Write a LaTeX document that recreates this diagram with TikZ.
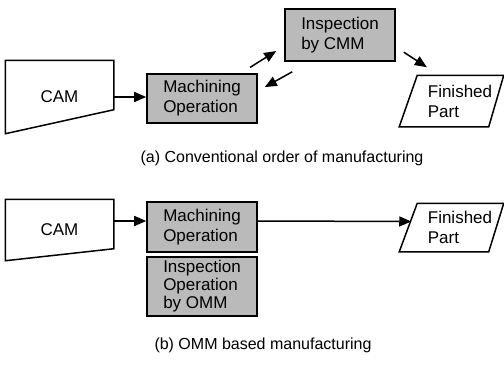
\documentclass[tikz,border=0pt]{standalone}
\usepackage{fontspec}
\setmainfont{Liberation Sans}
\usetikzlibrary{arrows.meta,calc}
\tikzset{
  >={Triangle[length=12pt,width=10pt]},
  box/.style={draw,line width=1.6pt,fill=black!27,align=left,inner sep=0pt,font=\fontsize{17}{20}\selectfont},
  txt/.style={inner sep=0pt,align=left,font=\fontsize{17}{20}\selectfont},
  captxt/.style={inner sep=0pt,font=\fontsize{16}{19}\selectfont},
  every picture/.style={line width=1.5pt},
}
\begin{document}
\begin{tikzpicture}[x=1pt,y=-1pt]
\useasboundingbox (0,0) rectangle (504,372);
% (a) conventional order
\node[txt,minimum width=107pt,minimum height=72pt] (cam1) at (59.5,97){CAM};
\node[box,minimum width=110pt,minimum height=49pt] (mach1) at (202,98.5){Machining\\Operation};
\node[box,minimum width=110pt,minimum height=52pt] (insp1) at (340,35){Inspection\\by CMM};
\node[txt,minimum width=66pt,minimum height=50pt] (fin1) at (460,101){Finished\\Part};
\draw (cam1.north west) -- (cam1.north east) -- ($(cam1.south east)+(0,-24)$) -- (cam1.south west) -- cycle;
\draw ($(fin1.north west)+(-9,0)$) -- ($(fin1.north east)+(10,0)$) -- ($(fin1.south east)+(-5,0)$) -- ($(fin1.south west)+(-27,0)$) -- cycle;
\draw[->] (cam1.east) -- (cam1.east -| mach1.west);
\draw[->,shorten <=11pt,shorten >=9.5pt] ([xshift=-17pt]mach1.north east) -- ([yshift=-11pt]insp1.west);
\draw[->,shorten <=20.6pt,shorten >=8pt] ([xshift=26pt]insp1.south west) -- ([yshift=7.5pt]mach1.east);
\draw[->,shorten <=9.5pt,shorten >=14.8pt] ([yshift=-12pt]insp1.east) -- ([xshift=13pt]fin1.north west);
\node[captxt] (capa) at (282,158){(a) Conventional order of manufacturing};
% (b) OMM based
\node[txt,minimum width=107pt,minimum height=60pt] (cam2) at (59.5,230){CAM};
\node[box,minimum width=110pt,minimum height=50pt] (mach2) at (202,227){Machining\\Operation};
\node[box,minimum width=110pt,minimum height=59pt,font=\fontsize{17}{18}\selectfont] (insp2) at (202,286.5){Inspection\\Operation\\by OMM};
\node[txt,minimum width=66pt,minimum height=47pt] (fin2) at (460,227.5){Finished\\Part};
\draw (cam2.north west) -- (cam2.north east) -- ($(cam2.south east)+(0,-12)$) -- (cam2.south west) -- cycle;
\draw ($(fin2.north west)+(-9,0)$) -- ($(fin2.north east)+(10,0)$) -- ($(fin2.south east)+(-5,0)$) -- ($(fin2.south west)+(-27,0)$) -- cycle;
\draw[->] ([yshift=9pt]cam2.east) -- ([yshift=9pt]cam2.east -| mach2.west);
\draw[->] ([yshift=6pt]mach2.east) -- ([xshift=-15pt,yshift=6pt]fin2.west);
\node[captxt] (capb) at (263,345){(b) OMM based manufacturing};
\end{tikzpicture}
\end{document}
